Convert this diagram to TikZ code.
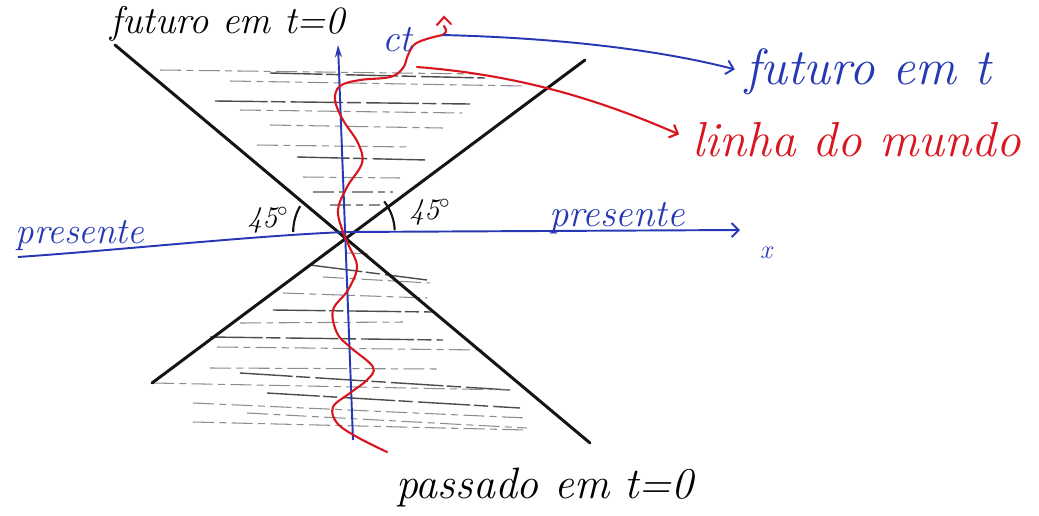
\documentclass[tikz,border=0pt]{standalone}
\usepackage{tikz}
\usetikzlibrary{arrows.meta}
\definecolor{penblue}{HTML}{2638B4}
\definecolor{penred}{HTML}{D9161F}
\definecolor{penblack}{HTML}{141414}

\begin{document}
\begin{tikzpicture}[x=0.02cm, y=-0.02cm,
  cone/.style={penblack, line width=1.7pt, line cap=round},
  axis/.style={penblue, line width=1.1pt},
  world/.style={penred, line width=1.2pt, line cap=round},
  barb/.style={-{Straight Barb[length=4pt, width=8pt]}},
  hatchA/.style={black!70, line width=0.8pt, dash pattern=on 30pt off 2pt on 8pt off 3pt},
  hatchB/.style={black!45, line width=0.6pt, dash pattern=on 12pt off 3pt on 4pt off 3pt},
  hand/.style={font=\itshape\fontsize{#1}{#1}\selectfont, inner sep=0pt}
]
  \useasboundingbox (0,0) rectangle (1039,515);

  % the event and the light cone
  \coordinate (O) at (345,232);
  \coordinate (fl) at (115,45);
  \coordinate (pr) at (590,443);
  \coordinate (fr) at (585,60);
  \coordinate (pl) at (152,383);

  % hatching of future and past cones
  \foreach \a/\b/\c/\d/\s in {
    160/70/480/74/hatchB, 270/73/485/78/hatchA, 230/81/525/86/hatchB,
    215/101/470/104/hatchA, 240/110/462/113/hatchB, 270/125/443/128/hatchB,
    257/145/410/147/hatchB, 297/157/427/160/hatchA, 303/177/400/178/hatchB,
    313/192/393/192/hatchB, 330/205/380/205/hatchB,
    347/253/372/254/hatchB, 310/265/427/280/hatchA, 323/277/430/283/hatchB,
    283/293/427/298/hatchB, 273/310/433/312/hatchA, 240/323/403/322/hatchB,
    210/337/443/340/hatchA, 217/347/483/350/hatchB, 210/368/440/369/hatchB,
    240/373/510/390/hatchA, 153/383/510/390/hatchB, 267/393/520/408/hatchA,
    193/403/527/418/hatchB, 247/413/527/428/hatchB, 193/422/527/430/hatchB}
    \draw[\s] (\a,\b) -- (\c,\d);

  \draw[cone] (fl) -- (pr);
  \draw[cone] (fr) -- (pl);

  % axes
  \coordinate (xl) at (18,257);
  \coordinate (xr) at (740,230);
  \coordinate (tb) at (353,440);
  \coordinate (tt) at (338,45);
  \draw[axis, -{Stealth[length=7pt, width=4pt]}] (tb) -- (tt);
  \draw[axis, barb] (xl) .. controls (120,250) and (250,236) .. (O) -- (xr);

  % world line
  \coordinate (wb) at (387,452);
  \coordinate (wt) at (443,35);
  \draw[world] plot[smooth, tension=0.6] coordinates {
    (wb) (357,437) (337,423) (333,407) (350,393) (367,380) (373,367)
    (350,347) (337,333) (333,310) (348,290) (357,267) (349,246) (343,232)
    (338,210) (347,187) (362,163) (358,143) (343,120) (335,100) (340,86)
    (360,80) (390,77) (403,68) (408,55) (415,44) (430,38) (wt)};
  \draw[world] (wt) .. controls (447,31) .. (444,26);
  \draw[world] (437,25) -- (444,17) -- (451,24);

  % angles
  \draw[penblack, line width=1.2pt] (O) ++(150:29.5pt) arc[start angle=150, end angle=180, radius=29.5pt];
  \draw[penblack, line width=1.2pt] (O) ++(2:28.3pt) arc[start angle=2, end angle=38, radius=28.3pt];

  % labels
  \node[hand=22] (futzero) at (228,24) {futuro em t=0};
  \node[hand=22, penblue] (ct) at (397,40) {ct};
  \node[hand=29, penblue, anchor=west] (futt) at (745,72) {futuro em t};
  \node[hand=28, penred, anchor=west] (linha) at (692,140) {linha do mundo};
  \node[hand=21, penblue] (presL) at (80,236) {presente};
  \node[hand=22, penblue] (presR) at (617,218) {presente};
  \node[hand=17] (angL) at (268,220) {45$^\circ$};
  \node[hand=17] (angR) at (430,212) {45$^\circ$};
  \node[hand=15, penblue] (xlab) at (766,253) {x};
  \node[hand=25] (passado) at (545,488) {passado em t=0};

  % pointers to the labels
  \coordinate (wl) at (417,67);
  \draw[axis, barb, shorten >=6pt] (wt) .. controls (560,38) and (660,50) .. (futt.west);
  \draw[world, barb, shorten >=8pt] (wl) .. controls (520,75) and (600,100) .. (linha.west);
\end{tikzpicture}
\end{document}
